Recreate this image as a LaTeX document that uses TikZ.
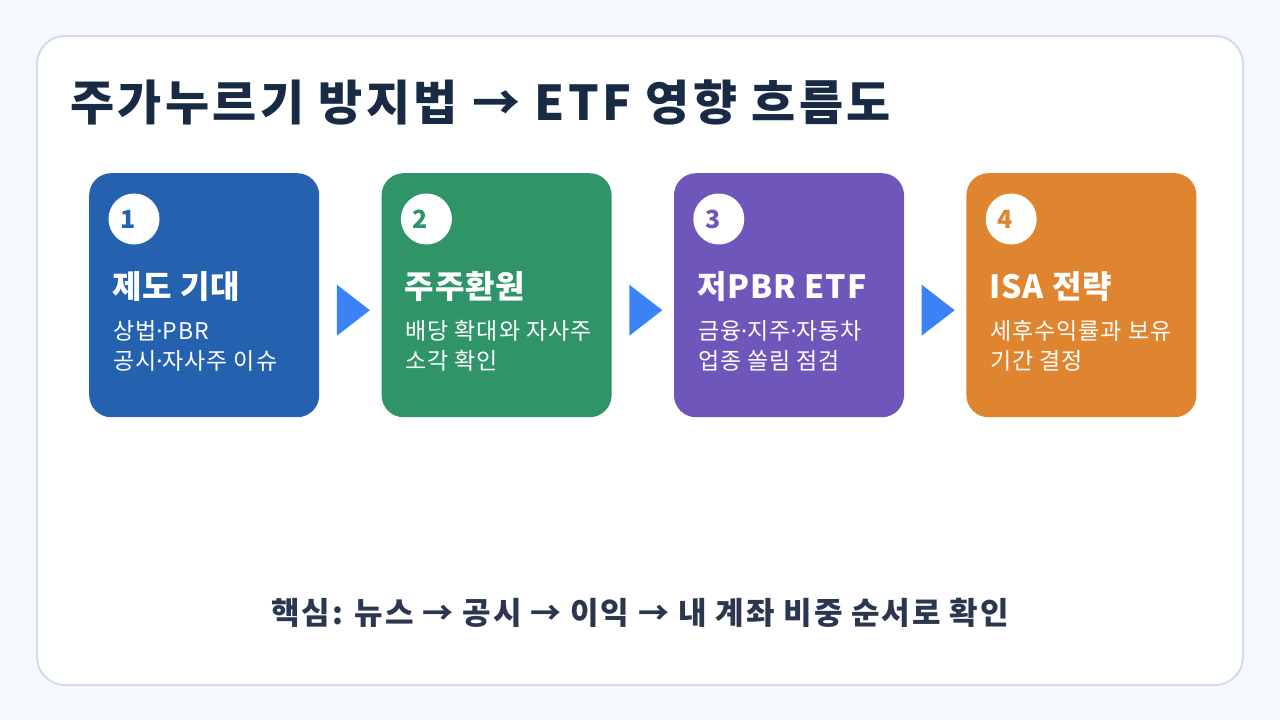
\documentclass[tikz,border=0pt]{standalone}
\usepackage{fontspec}
\setmainfont{Noto Sans CJK KR}
\newfontfamily\latinfont{Noto Sans}
\usepackage{xcolor}
\usepackage{tikz}
\usetikzlibrary{positioning,calc,shapes.geometric}
\definecolor{pagebg}{HTML}{F5F8FC}
\definecolor{panelline}{HTML}{D3DCE9}
\definecolor{ink}{HTML}{182A44}
\definecolor{inksoft}{HTML}{2B3650}
\definecolor{stepblue}{HTML}{2462B0}
\definecolor{stepgreen}{HTML}{2F9468}
\definecolor{steppurple}{HTML}{6E56BB}
\definecolor{steporange}{HTML}{E0852F}
\definecolor{arrowblue}{HTML}{3B82F6}
\newcommand{\fsz}[1]{\fontsize{#1}{#1}\selectfont}
\newcommand{\md}{{\latinfont ·}}
\tikzset{
  card/.style={rectangle, rounded corners=22pt, minimum width=230pt, minimum height=244pt,
               inner sep=0pt, anchor=north west},
  badge/.style={circle, fill=white, minimum size=51pt, inner sep=0pt},
  badgenum/.style={font=\fsz{25}\bfseries, inner sep=0pt, anchor=base west},
  cardhead/.style={font=\fsz{32}\bfseries\addfontfeatures{LetterSpace=3}, text=white,
                   anchor=base west, inner sep=0pt},
  cardtext/.style={font=\fsz{23}\addfontfeatures{LetterSpace=4}, text=white,
                   anchor=base west, inner sep=0pt},
  nextarrow/.style={isosceles triangle, isosceles triangle stretches, minimum width=51pt,
                    minimum height=33pt, inner sep=0pt, fill=arrowblue},
}

\begin{document}
\begin{tikzpicture}[x=1pt, y=-1pt]
\fill[pagebg] (0,0) rectangle (1280,720);
\useasboundingbox (0,0) rectangle (1280,720);
\draw[panelline, line width=2pt, fill=white, rounded corners=28pt] (37,36) rectangle (1243,685);

% title
\node[font=\fsz{48}\bfseries\addfontfeatures{LetterSpace=7}, text=ink, anchor=base west,
      inner sep=0pt] (title) at (70,120)
 {주가누르기 방지법 → ETF 영향 흐름도};

% the four steps
\node[card, fill=stepblue]   (c1) at (89,173) {};
\node[card, fill=stepgreen,  right=62pt of c1] (c2) {};
\node[card, fill=steppurple, right=62pt of c2] (c3) {};
\node[card, fill=steporange, right=62pt of c3] (c4) {};

\node[badge] (b1) at ($(c1.north west)+(45,46)$) {};
\node[badge] (b2) at ($(c2.north west)+(45,46)$) {};
\node[badge] (b3) at ($(c3.north west)+(45,46)$) {};
\node[badge] (b4) at ($(c4.north west)+(45,46)$) {};
\node[badgenum, text=stepblue]   (n1) at ($(b1.center)+(-14,9)$) {1};
\node[badgenum, text=stepgreen]  (n2) at ($(b2.center)+(-14,9)$) {2};
\node[badgenum, text=steppurple] (n3) at ($(b3.center)+(-14,9)$) {3};
\node[badgenum, text=steporange] (n4) at ($(b4.center)+(-14,9)$) {4};

\node[cardhead] (h1) at ($(c1.north west)+(23,125)$) {제도 기대};
\node[cardhead] (h2) at ($(c2.north west)+(23,125)$) {주주환원};
\node[cardhead] (h3) at ($(c3.north west)+(23,125)$) {저PBR ETF};
\node[cardhead] (h4) at ($(c4.north west)+(23,125)$) {ISA 전략};

\node[cardtext] (t1a) at ($(c1.north west)+(24,166)$) {상법\md PBR};
\node[cardtext] (t1b) at ($(c1.north west)+(24,196)$) {공시\md 자사주 이슈};
\node[cardtext] (t2a) at ($(c2.north west)+(24,166)$) {배당 확대와 자사주};
\node[cardtext] (t2b) at ($(c2.north west)+(24,196)$) {소각 확인};
\node[cardtext] (t3a) at ($(c3.north west)+(24,166)$) {금융\md 지주\md 자동차};
\node[cardtext] (t3b) at ($(c3.north west)+(24,196)$) {업종 쏠림 점검};
\node[cardtext] (t4a) at ($(c4.north west)+(24,166)$) {세후수익률과 보유};
\node[cardtext] (t4b) at ($(c4.north west)+(24,196)$) {기간 결정};

% arrows between the steps
\node[nextarrow] (a12) at ($($(c1.east)!0.5!(c2.west)$)+(-1,15)$) {};
\node[nextarrow] (a23) at ($($(c2.east)!0.5!(c3.west)$)+(-1,15)$) {};
\node[nextarrow] (a34) at ($($(c3.east)!0.5!(c4.west)$)+(-1,15)$) {};

% takeaway
\node[font=\fsz{31}\bfseries\addfontfeatures{LetterSpace=6}, text=inksoft, anchor=base,
      inner sep=0pt] (keyline) at (640,624)
 {핵심: 뉴스 → 공시 → 이익 → 내 계좌 비중 순서로 확인};
\end{tikzpicture}
\end{document}
